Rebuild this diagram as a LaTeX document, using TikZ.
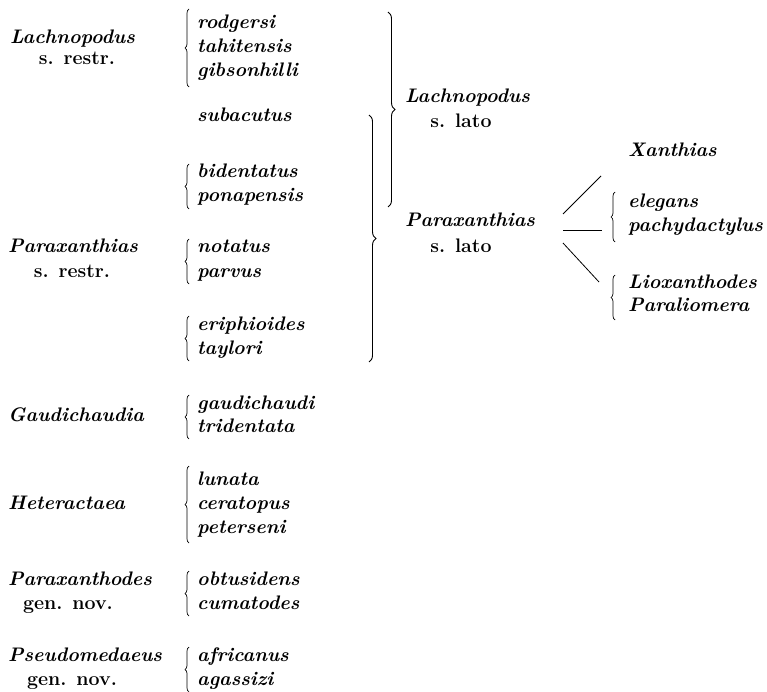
\documentclass[tikz,border=0pt]{standalone}
\usepackage{tikz}
\usetikzlibrary{decorations.pathreplacing}
\begin{document}
\begin{tikzpicture}[x=1pt,y=-1pt,
  genus/.style={anchor=base west,inner sep=0pt,font=\fontsize{19.6}{22}\selectfont\bfseries\itshape},
  rank/.style={anchor=base,inner sep=0pt,font=\fontsize{19.6}{22}\selectfont\bfseries},
  species/.style={anchor=base west,inner sep=0pt,font=\fontsize{19.6}{22}\selectfont\bfseries\itshape},
  smallbrace/.style={decorate,decoration={brace,amplitude=4pt},line width=0.7pt},
  bigbrace/.style={decorate,decoration={brace,amplitude=7pt},line width=0.9pt}]
  \useasboundingbox (0,0) rectangle (767,692);

  % genera, left column
  \node[genus] (lach) at (10,44) {Lachnopodus};
  \node[rank] (lachsr) at (77,65) {s. restr.};
  \node[genus] (parx) at (8,253) {Paraxanthias};
  \node[rank] (parxsr) at (72,277) {s. restr.};
  \node[genus] (gaud) at (8,421) {Gaudichaudia};
  \node[genus] (hete) at (8,509) {Heteractaea};
  \node[genus] (pxth) at (8,585) {Paraxanthodes};
  \node[rank] (pxthgn) at (68,609) {gen. nov.};
  \node[genus] (pseu) at (8,661) {Pseudomedaeus};
  \node[rank] (pseugn) at (72,685) {gen. nov.};

  % species
  \foreach \sp/\yy in {rodgersi/29,tahitensis/53,gibsonhilli/77,subacutus/122,
      bidentatus/178,ponapensis/202,notatus/253,parvus/277,eriphioides/330,
      taylori/354,gaudichaudi/409,tridentata/432,lunata/485,ceratopus/509,
      peterseni/533,obtusidens/585,cumatodes/609,africanus/661,agassizi/685}
    \node[species] (\sp) at (197,\yy) {\sp};

  % small braces
  \foreach \top/\bot in {9/87,164/209,239/284,316/361,395/439,466/543,571/616,647/692}
    \draw[smallbrace] (189,\bot) -- (189,\top);

  % big braces
  \coordinate (bl1) at (388,12);
  \coordinate (bl2) at (388,207);
  \coordinate (bp1) at (369,115);
  \coordinate (bp2) at (369,362);
  \draw[bigbrace] (bl1) -- (bl2);
  \draw[bigbrace] (bp1) -- (bp2);

  % s. lato
  \node[genus] (lachsl) at (405,103) {Lachnopodus};
  \node[rank] (lachslr) at (461,128) {s. lato};
  \node[genus] (parxsl) at (405,227) {Paraxanthias};
  \node[rank] (parxslr) at (461,253) {s. lato};

  % right groups
  \node[genus] (xant) at (628,157) {Xanthias};
  \node[species] (eleg) at (628,208) {elegans};
  \node[species] (pach) at (628,232) {pachydactylus};
  \node[species] (liox) at (628,288) {Lioxanthodes};
  \node[species] (parl) at (628,311) {Paraliomera};
  \draw[smallbrace] (615,242) -- (615,192);
  \draw[smallbrace] (615,320) -- (615,275);

  \coordinate (ua) at (563,214);
  \coordinate (ub) at (601,176);
  \coordinate (ma) at (563,230);
  \coordinate (mb) at (602,230);
  \coordinate (la) at (563,243);
  \coordinate (lb) at (599,282);
  \draw[line width=0.8pt] (ua) -- (ub);
  \draw[line width=0.8pt] (ma) -- (mb);
  \draw[line width=0.8pt] (la) -- (lb);
\end{tikzpicture}
\end{document}
